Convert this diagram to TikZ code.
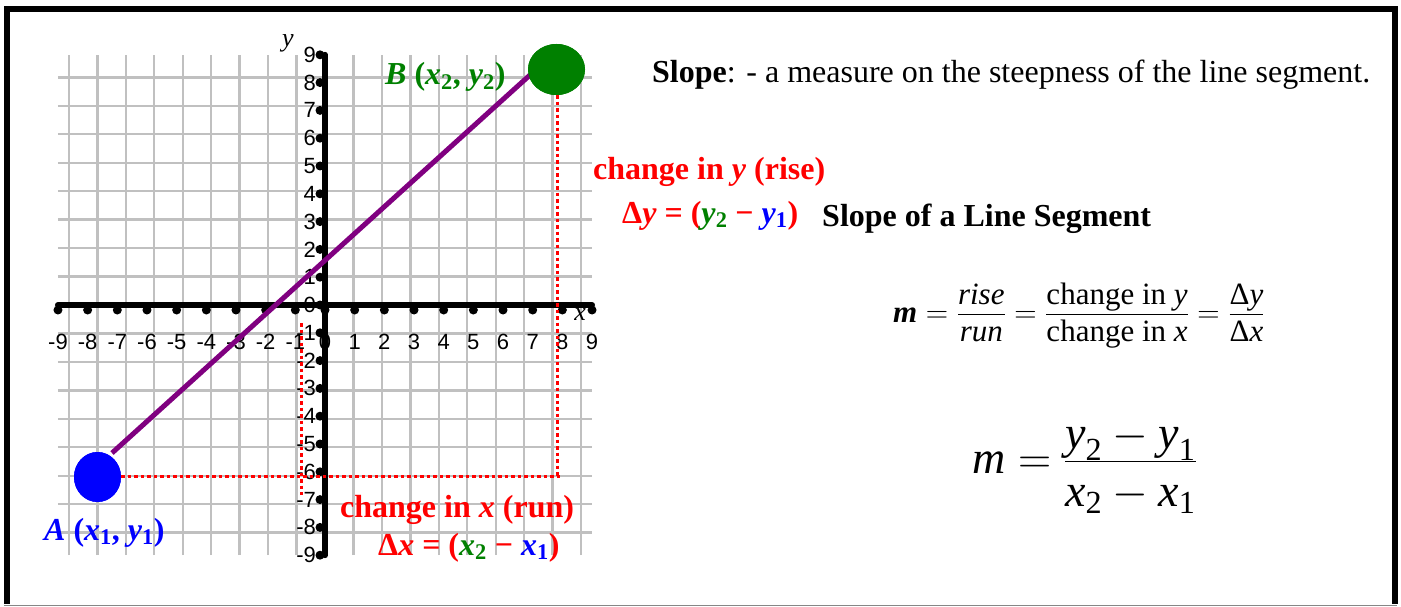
\RequirePackage{fix-cm}
\documentclass[tikz,border=0pt]{standalone}
\usepackage{amsmath}
\usepackage{fontspec}
\setmainfont{Liberation Serif}
\newfontfamily\arialfont{Liberation Sans}
\usetikzlibrary{shapes.geometric,positioning}

\definecolor{ptgreen}{RGB}{0,128,0}
\definecolor{ptblue}{RGB}{0,0,255}
\definecolor{segpurple}{RGB}{128,0,128}
\definecolor{gridgray}{RGB}{192,192,192}

% fraction with full-size parts and struts: #1 num depth, #2 den height
\newcommand{\fr}[4]{\frac{\textstyle #3\rule[-#1]{0pt}{#1}}{\textstyle \rule{0pt}{#2}#4}}

\tikzset{
  gridline/.style={gridgray, line width=2.4pt},
  axisline/.style={black, line width=6pt, line cap=round},
  numlbl/.style={font=\arialfont\fontsize{22}{26}\selectfont, inner sep=0pt},
  axlbl/.style={font=\itshape\fontsize{26}{30}\selectfont, inner sep=0pt},
  runline/.style={red, line width=3pt, dash pattern=on 3.5pt off 3pt},
  segline/.style={segpurple, line width=5pt},
  ptdot/.style={ellipse, inner sep=0pt},
  lbl/.style={font=\fontsize{32}{36}\selectfont\bfseries, inner sep=0pt, anchor=base west},
  txt/.style={font=\fontsize{32}{36}\selectfont, inner sep=0pt, anchor=base west},
}

\begin{document}
\begin{tikzpicture}[x=1pt, y=-1pt]
  \useasboundingbox (0,0) rectangle (1401,607);
  % frame
  \draw[gridgray!70!black, line width=1.5pt] (4,605.5) -- (1397,605.5);
  \draw[line width=6pt] (7,604) -- (7,9.5) -- (1394.5,9.5) -- (1394.5,604);

  % grid and axes
  \begin{scope}[shift={(325,305)}, x=29.67pt, y=27.8pt]
    \draw[gridline] (-9,-9) grid (9,9);
    \foreach \i in {-9,...,9} {
      \node[numlbl] (xn\i) at (\i,-1.33) {\i};
      \node[numlbl, anchor=east] (yn\i) at (-0.3,\i) {\i};
    }
    \draw[axisline] (-9,0) -- (9,0);
    \draw[axisline] (0,-9) -- (0,9);
    \foreach \i in {-9,...,9} {
      \fill (\i,0) ++(0pt,-5pt) circle[radius=4.5pt];
      \fill (0,\i) ++(-5pt,0pt) circle[radius=4.5pt];
    }
    \node[axlbl] (xname) at (8.6,-0.35) {x};
    \node[axlbl] (yname) at (-1.25,9.4) {y};
  \end{scope}

  % the two points
  \node[ptdot, fill=ptblue, minimum width=47pt, minimum height=50pt] (ptA) at (97.5,477) {};
  \node[ptdot, fill=ptgreen, minimum width=57pt, minimum height=51pt] (ptB) at (556.5,69.5) {};
  \coordinate (lineA) at (112,453);
  \coordinate (lineB) at (530,75);
  \coordinate (runEnd) at (563,476);
  \coordinate (riseEnd) at (557,476);
  \coordinate (stubTop) at (301,323);
  \coordinate (stubBot) at (301,495);

  % rise and run
  \draw[runline] (ptA.east |- runEnd) -- (runEnd);
  \draw[runline] (ptB.south -| riseEnd) -- (riseEnd);
  \draw[runline] (stubTop) -- (stubBot);
  \draw[segline] (lineA) -- (lineB);
  \node[ptdot, fill=ptblue, minimum width=47pt, minimum height=50pt] at (ptA) {};
  \node[ptdot, fill=ptgreen, minimum width=57pt, minimum height=51pt] at (ptB) {};

  % labels
  \node[lbl, text=ptgreen] (labB) at (385,85) {\textit{B} (\textit{x}\textsubscript{2}, \textit{y}\textsubscript{2})};
  \node[lbl, text=ptblue] (labA) at (44,540) {\textit{A} (\textit{x}\textsubscript{1}, \textit{y}\textsubscript{1})};
  \node[lbl, text=red] (riseTxt) at (593,180) {change in \textit{y} (rise)};
  \node[lbl, text=red] (riseEq) at (622,223) {Δ\textit{y} = (\textcolor{ptgreen}{\textit{y}\textsubscript{2}} − \textcolor{ptblue}{\textit{y}\textsubscript{1}})};
  \node[lbl, text=red] (runTxt) at (340,517) {change in \textit{x} (run)};
  \node[lbl, text=red] (runEq) at (378,555) {Δ\textit{x} = (\textcolor{ptgreen}{\textit{x}\textsubscript{2}} − \textcolor{ptblue}{\textit{x}\textsubscript{1}})};
  \node[txt] (slopeNote) at (652,83) {\textbf{Slope}: - a measure on the steepness of the line segment.};
  \node[lbl] (slopeTitle) at (822,226) {Slope of a Line Segment};

  % formulas
  \node[txt, font=\fontsize{31}{36}\selectfont] (slopeDef) at (893,322) {$\text{\bfseries\itshape m} = \fr{8pt}{26pt}{\text{\itshape rise}}{\text{\itshape run}} = \fr{8pt}{26pt}{\text{change in \itshape y}}{\text{change in \itshape x}} = \fr{8pt}{26pt}{\text{Δ\itshape y}}{\text{Δ\itshape x}}$};
  \node[txt, font=\fontsize{46}{52}\selectfont] (slopeCalc) at (972,473) {$\text{\itshape m} = \fr{10pt}{44pt}{\text{\itshape y}_{\text{2}} - \text{\itshape y}_{\text{1}}}{\text{\itshape x}_{\text{2}} - \text{\itshape x}_{\text{1}}}$};
\end{tikzpicture}
\end{document}
